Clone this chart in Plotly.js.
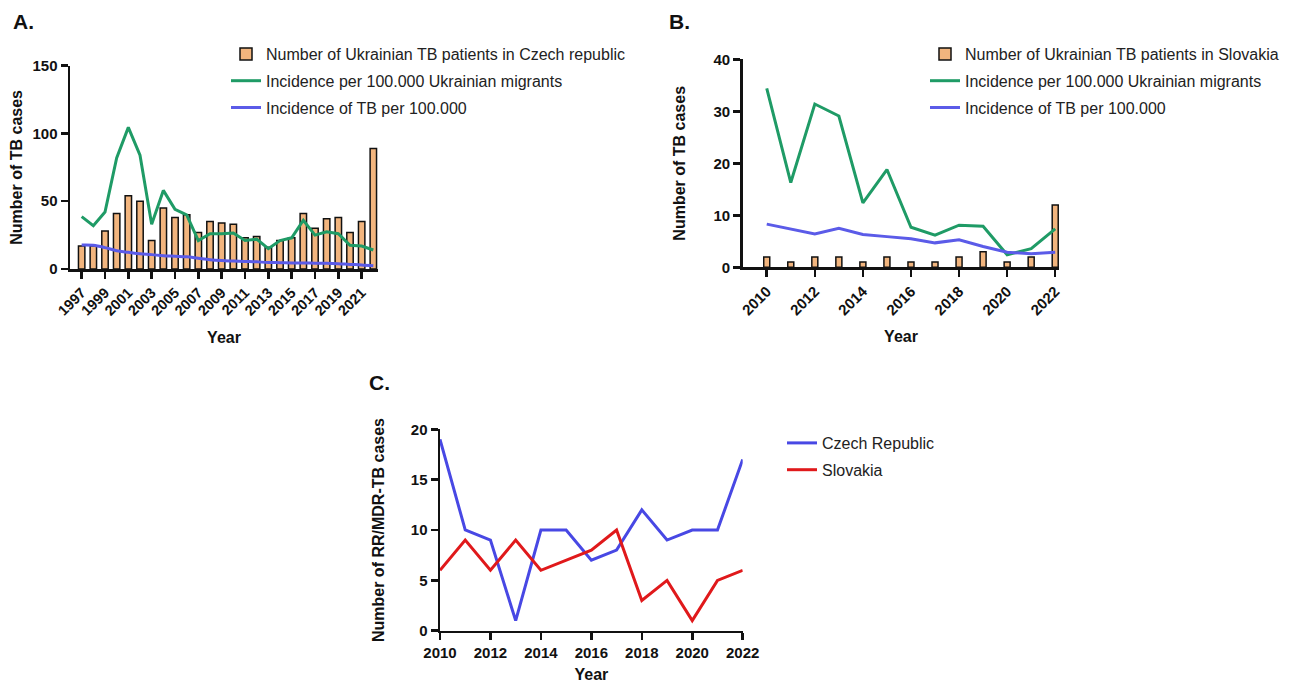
<!DOCTYPE html>
<html>
<head>
<meta charset="utf-8">
<script src="https://cdn.plot.ly/plotly-3.0.1.min.js"></script>
<style>html,body{margin:0;padding:0;background:#fff;}#chart{width:1309px;height:683px;}</style>
</head>
<body>
<div id="chart"></div>
<script>
// Panel A: Czech Republic
const yearsA = [1997,1998,1999,2000,2001,2002,2003,2004,2005,2006,2007,2008,2009,2010,2011,2012,2013,2014,2015,2016,2017,2018,2019,2020,2021,2022];
const patientsCZ = [17,17,28,41,54,50,21,45,38,40,27,35,34,33,23,24,16,21,23,41,30,37,38,27,35,89];
const incMigrantsCZ = [38.6,32,42,82,104.5,84,33,58,44,40,21,26,26,26.5,21,22,15,21,23,36,25,27.5,26,17.5,17,14];
const incTotalCZ = [17.7,17.5,15.8,13.5,12.3,11.2,10.6,9.8,9.4,9.0,7.9,6.8,6.2,5.9,5.6,5.3,4.8,4.7,4.5,4.5,4.3,4.2,3.9,3.4,3.0,2.4];

// Panel B: Slovakia
const yearsB = [2010,2011,2012,2013,2014,2015,2016,2017,2018,2019,2020,2021,2022];
const patientsSK = [2,1,2,2,1,2,1,1,2,3,1,2,12];
const incMigrantsSK = [34.4,16.3,31.4,29.1,12.4,18.8,7.7,6.2,8.1,7.9,2.4,3.6,7.4];
const incTotalSK = [8.3,7.4,6.4,7.5,6.3,5.9,5.5,4.7,5.3,4.0,2.9,2.6,2.9];

// Panel C: RR/MDR-TB
const yearsC = [2010,2011,2012,2013,2014,2015,2016,2017,2018,2019,2020,2021,2022];
const mdrCZ = [19,10,9,1,10,10,7,8,12,9,10,10,17];
const mdrSK = [6,9,6,9,6,7,8,10,3,5,1,5,6];

const legendNames = {
  barCZ: 'Number of Ukrainian TB patients in Czech republic',
  barSK: 'Number of Ukrainian TB patients in Slovakia',
  mig: 'Incidence per 100.000 Ukrainian migrants',
  tot: 'Incidence of TB per 100.000'
};

const W = 1309, H = 683;
const px = v => v / W;
const py = v => 1 - v / H;

const barColor = '#F2B57E';
const green = '#1F9B66';
const blueInc = '#5B5BE8';
const blueC = '#4848E4';
const redC = '#E0191B';
const FONT = 'Liberation Sans, Arial, sans-serif';

const traces = [
  {type:'bar', x: yearsA, y: patientsCZ, name: legendNames.barCZ, xaxis:'x', yaxis:'y', width:0.55,
   marker:{color:barColor, line:{color:'#111', width:1.5}}, legend:'legend', legendgroup:'a1'},
  {type:'scatter', mode:'lines', x: yearsA, y: incMigrantsCZ, name: legendNames.mig, xaxis:'x', yaxis:'y',
   line:{color:green, width:3}, legend:'legend', legendgroup:'a2'},
  {type:'scatter', mode:'lines', x: yearsA, y: incTotalCZ, name: legendNames.tot, xaxis:'x', yaxis:'y',
   line:{color:blueInc, width:3, shape:'spline'}, legend:'legend', legendgroup:'a3'},

  {type:'bar', x: yearsB, y: patientsSK, name: legendNames.barSK, xaxis:'x2', yaxis:'y2', width:0.25,
   marker:{color:barColor, line:{color:'#111', width:1.5}}, legend:'legend2', legendgroup:'b1'},
  {type:'scatter', mode:'lines', x: yearsB, y: incMigrantsSK, name: legendNames.mig, xaxis:'x2', yaxis:'y2',
   line:{color:green, width:3}, legend:'legend2', legendgroup:'b2'},
  {type:'scatter', mode:'lines', x: yearsB, y: incTotalSK, name: legendNames.tot, xaxis:'x2', yaxis:'y2',
   line:{color:blueInc, width:3}, legend:'legend2', legendgroup:'b3'},

  {type:'scatter', mode:'lines', x: yearsC, y: mdrCZ, name:'Czech Republic', xaxis:'x3', yaxis:'y3',
   line:{color:blueC, width:3}, legend:'legend3', legendgroup:'c1'},
  {type:'scatter', mode:'lines', x: yearsC, y: mdrSK, name:'Slovakia', xaxis:'x3', yaxis:'y3',
   line:{color:redC, width:3}, legend:'legend3', legendgroup:'c2'}
];

const tickFont = {family: FONT, size: 15, color:'#111', weight: 'bold'};
const tickFontA = {family: FONT, size: 14.5, color:'#111', weight: 'bold'};
const titleFont = {family: FONT, size: 16, color:'#111', weight: 'bold'};

function xax(domain, range, dtick, tick0, angle, anchor, standoff, tf){
  return {domain: domain, range: range, anchor: anchor, tickmode:'linear', tick0: tick0, dtick: dtick,
    showgrid:false, zeroline:false, showline:true, linecolor:'#111', linewidth:2.5,
    ticks:'outside', ticklen:7, tickwidth:2.5, tickcolor:'#111', tickangle: angle,
    tickfont: tf || tickFont, title:{text:'Year', font:titleFont, standoff: standoff}, automargin:false, fixedrange:true};
}
function yax(domain, range, dtick, anchor, title, standoff){
  return {domain: domain, range: range, anchor: anchor, tickmode:'linear', tick0:0, dtick: dtick,
    showgrid:false, zeroline:false, showline:true, linecolor:'#111', linewidth:2.5,
    ticks:'outside', ticklen:7, tickwidth:2.5, tickcolor:'#111',
    tickfont: tickFont, title:{text:title, font:titleFont, standoff: standoff}, automargin:false, fixedrange:true};
}

const legFont = {family: FONT, size: 16, color:'#222'};

const layout = {
  width: W, height: H,
  margin:{l:0,r:0,t:0,b:0},
  paper_bgcolor:'#fff', plot_bgcolor:'rgba(0,0,0,0)',
  showlegend:true, barmode:'overlay',
  font:{family: FONT, color:'#111'},
  xaxis: xax([px(70), px(378)], [1996.0, 2022.4], 2, 1997, -45, 'y', 14, tickFontA),
  yaxis: yax([py(269), py(65.7)], [0,150], 50, 'x', 'Number of TB cases', 6),
  xaxis2: xax([px(742.7), px(1059.3)], [2009, 2022.17], 2, 2010, -45, 'y2', 14),
  yaxis2: yax([py(267.3), py(59.3)], [0,40], 10, 'x2', 'Number of TB cases', 24),
  xaxis3: xax([px(440), px(742.7)], [2010, 2022], 2, 2010, 0, 'y3', 10),
  yaxis3: yax([py(630.7), py(429.3)], [0,20], 5, 'x3', 'Number of RR/MDR-TB cases', 22),
  legend: {x: px(226), y: py(37), xanchor:'left', yanchor:'top', font: legFont, bgcolor:'rgba(0,0,0,0)', tracegroupgap:3, traceorder:'grouped'},
  legend2: {x: px(925), y: py(37), xanchor:'left', yanchor:'top', font: legFont, bgcolor:'rgba(0,0,0,0)', tracegroupgap:3, traceorder:'grouped'},
  legend3: {x: px(782), y: py(426), xanchor:'left', yanchor:'top', font: legFont, bgcolor:'rgba(0,0,0,0)', tracegroupgap:3, traceorder:'grouped'},
  annotations: [
    {text:'A.', x: px(11), y: py(22), xref:'paper', yref:'paper', xanchor:'left', yanchor:'middle', showarrow:false, font:{family:FONT, size:21, color:'#111', weight:'bold'}},
    {text:'B.', x: px(667), y: py(22), xref:'paper', yref:'paper', xanchor:'left', yanchor:'middle', showarrow:false, font:{family:FONT, size:21, color:'#111', weight:'bold'}},
    {text:'C.', x: px(367), y: py(382), xref:'paper', yref:'paper', xanchor:'left', yanchor:'middle', showarrow:false, font:{family:FONT, size:21, color:'#111', weight:'bold'}}
  ]
};

Plotly.newPlot('chart', traces, layout, {staticPlot:true, displayModeBar:false});
</script>
</body>
</html>
